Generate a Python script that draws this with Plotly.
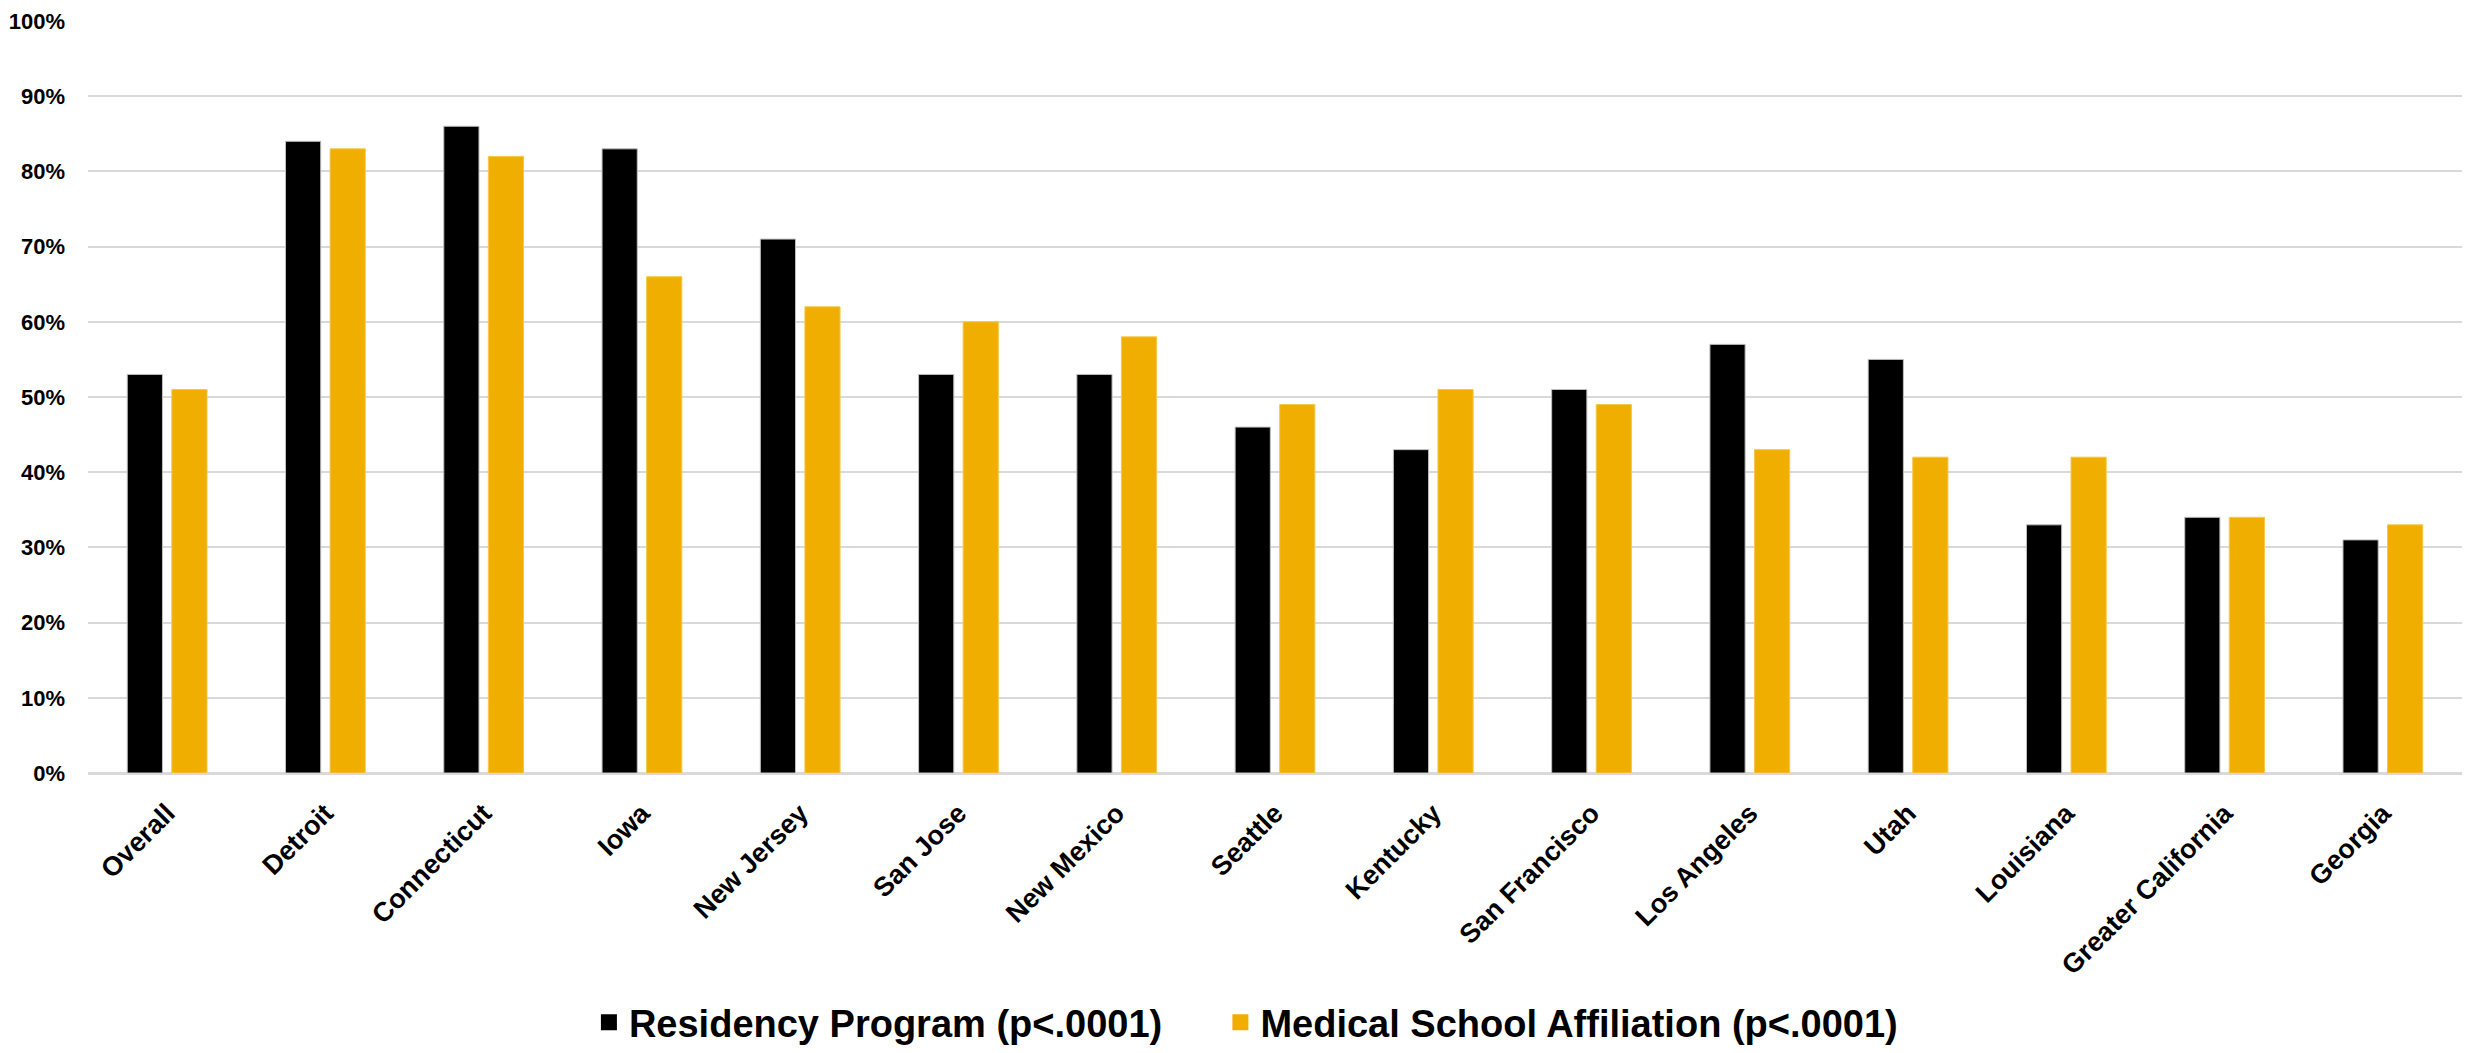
import plotly.graph_objects as go

categories = ["Overall", "Detroit", "Connecticut", "Iowa", "New Jersey", "San Jose",
              "New Mexico", "Seattle", "Kentucky", "San Francisco", "Los Angeles",
              "Utah", "Louisiana", "Greater California", "Georgia"]
residency = [0.53, 0.84, 0.86, 0.83, 0.71, 0.53, 0.53, 0.46, 0.43, 0.51, 0.57, 0.55, 0.33, 0.34, 0.31]
med_school = [0.51, 0.83, 0.82, 0.66, 0.62, 0.60, 0.58, 0.49, 0.51, 0.49, 0.43, 0.42, 0.42, 0.34, 0.33]
series_names = ["Residency Program (p<.0001)", "Medical School Affiliation (p<.0001)"]
series_colors = ["#000000", "#F0AE00"]
y_ticks = [0, 0.1, 0.2, 0.3, 0.4, 0.5, 0.6, 0.7, 0.8, 0.9, 1.0]
y_tick_labels = ["0%", "10%", "20%", "30%", "40%", "50%", "60%", "70%", "80%", "90%", "100%"]

FONT = "Liberation Sans, Arial, sans-serif"

fig = go.Figure()
fig.add_trace(go.Bar(x=categories, y=residency, name=series_names[0], showlegend=False,
                     marker=dict(color=series_colors[0], line=dict(color="#BFBFBF", width=1))))
fig.add_trace(go.Bar(x=categories, y=med_school, name=series_names[1], showlegend=False,
                     marker=dict(color=series_colors[1], line=dict(color="#F5C84C", width=1))))
# legend entries with larger square keys, one legend per entry for spacing
for name, col, lg in zip(series_names, series_colors, ["legend", "legend2"]):
    fig.add_trace(go.Scatter(x=[None], y=[None], mode="markers", name=name, legend=lg,
                             marker=dict(symbol="square", size=19, color=col)))

legend_common = dict(orientation="h", xanchor="left", y=-0.332, yanchor="middle",
                     font=dict(family=FONT, size=38, color="#000000", weight="bold"),
                     itemwidth=30, bgcolor="rgba(0,0,0,0)")

fig.update_layout(
    width=2483, height=1053,
    margin=dict(l=88, r=21, t=21, b=280, autoexpand=False),
    paper_bgcolor="white", plot_bgcolor="white",
    barmode="group", bargap=0.437, bargroupgap=0.21,
    font=dict(family=FONT, color="#000000"),
    showlegend=True,
    legend=dict(x=0.211, **legend_common),
    legend2=dict(x=0.477, **legend_common),
    xaxis=dict(tickangle=-45, tickfont=dict(family=FONT, size=27, weight="bold"),
               showgrid=False, showline=False, ticks="", ticklabelstandoff=18,
               automargin=False),
    yaxis=dict(range=[0, 1.0], tickvals=y_ticks, ticktext=y_tick_labels,
               tickfont=dict(family=FONT, size=22, weight="bold"),
               showgrid=True, gridcolor="#D9D9D9", gridwidth=2,
               zeroline=True, zerolinecolor="#D9D9D9", zerolinewidth=3,
               showline=False, ticks="", ticklabelstandoff=22, automargin=False),
)

fig.write_html("out.html")
